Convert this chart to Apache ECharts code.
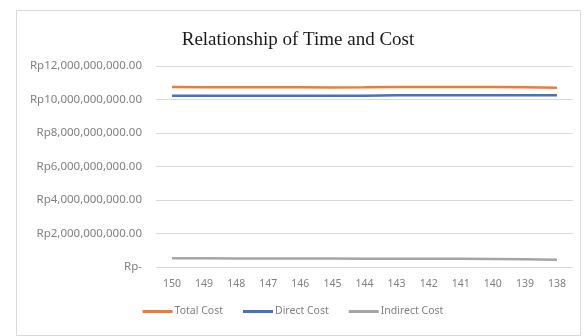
<!DOCTYPE html>
<html lang="en">
<head>
    <meta charset="UTF-8">
    <title>Relationship of Time and Cost</title>
    <script src="https://cdn.jsdelivr.net/npm/echarts@6/dist/echarts.min.js"></script>
    <style>
        * { margin: 0; padding: 0 }
        html, body { width: 100%; height: 100%; background: #fff }
        #main { width: 586px; height: 336px }
    </style>
</head>
<body>
    <div id="main"></div>
    <script type="text/javascript">
        // durasi (hari)
        var days = ['150', '149', '148', '147', '146', '145', '144', '143', '142', '141', '140', '139', '138'];
        var directCost = [10.22e9, 10.22e9, 10.22e9, 10.22e9, 10.22e9, 10.22e9, 10.23e9, 10.25e9, 10.26e9, 10.26e9, 10.26e9, 10.26e9, 10.26e9];
        var indirectCost = [0.52e9, 0.516e9, 0.513e9, 0.509e9, 0.506e9, 0.502e9, 0.499e9, 0.495e9, 0.492e9, 0.488e9, 0.485e9, 0.47e9, 0.44e9];
        var totalCost = [10.74e9, 10.736e9, 10.733e9, 10.729e9, 10.726e9, 10.722e9, 10.729e9, 10.745e9, 10.752e9, 10.748e9, 10.745e9, 10.73e9, 10.7e9];

        function rupiah(v) {
            if (v === 0) return 'Rp-';
            return 'Rp' + v.toLocaleString('en-US') + '.00';
        }

        var myChart = echarts.init(document.getElementById('main'));
        var option = {
            animation: false,
            graphic: [{
                type: 'rect',
                shape: { x: 16.5, y: 10.5, width: 564, height: 325 },
                style: { fill: 'none', stroke: '#d9d9d9', lineWidth: 1 },
                silent: true
            }],
            title: {
                text: 'Relationship of Time and Cost',
                left: 293,
                textAlign: 'center',
                top: 26,
                textStyle: {
                    fontFamily: 'Liberation Serif',
                    fontWeight: 'normal',
                    fontSize: 19,
                    color: '#1a1a1a'
                }
            },
            legend: {
                bottom: 14,
                left: 'center',
                itemWidth: 30,
                itemHeight: 3,
                itemGap: 20,
                icon: 'rect',
                textStyle: { fontFamily: 'Noto Sans', fontSize: 10.5, color: '#808080', padding: [0, 0, 0, -3] },
                data: ['Total Cost', 'Direct Cost', 'Indirect Cost']
            },
            grid: { left: 156, right: 13, top: 66, bottom: 69 },
            xAxis: {
                type: 'category',
                data: days,
                boundaryGap: true,
                axisLine: { show: false },
                axisTick: { show: false },
                axisLabel: { fontFamily: 'Noto Sans', fontSize: 10.5, color: '#808080', margin: 12 }
            },
            yAxis: {
                type: 'value',
                min: 0,
                max: 12e9,
                interval: 2e9,
                axisLine: { show: false },
                axisTick: { show: false },
                splitLine: { lineStyle: { color: '#d9d9d9', width: 1 } },
                axisLabel: {
                    fontFamily: 'Noto Sans',
                    fontSize: 11.5,
                    color: '#808080',
                    margin: 14,
                    formatter: rupiah
                }
            },
            series: [{
                name: 'Total Cost',
                type: 'line',
                data: totalCost,
                symbol: 'none',
                lineStyle: { color: '#ED7D31', width: 2.5 },
                itemStyle: { color: '#ED7D31' }
            }, {
                name: 'Direct Cost',
                type: 'line',
                data: directCost,
                symbol: 'none',
                lineStyle: { color: '#4472C4', width: 2.5 },
                itemStyle: { color: '#4472C4' }
            }, {
                name: 'Indirect Cost',
                type: 'line',
                data: indirectCost,
                symbol: 'none',
                lineStyle: { color: '#A5A5A5', width: 2.5 },
                itemStyle: { color: '#A5A5A5' }
            }]
        };
        myChart.setOption(option);
    </script>
</body>
</html>
